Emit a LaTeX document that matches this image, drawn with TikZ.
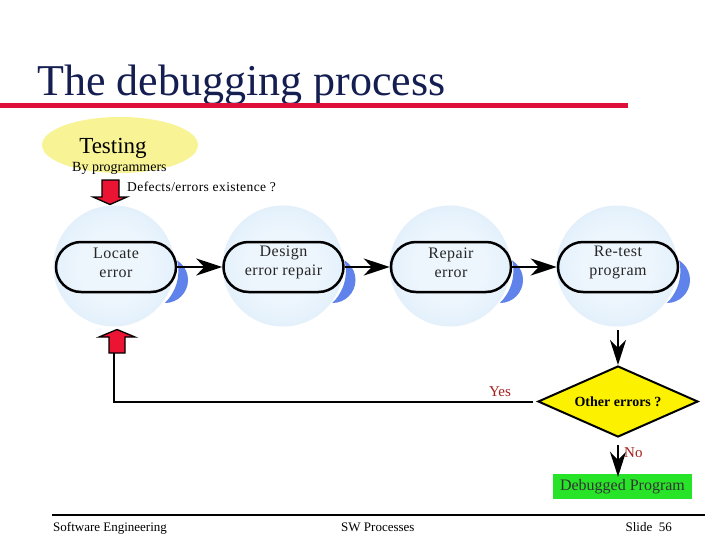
\documentclass[tikz,border=0pt]{standalone}
\usepackage{fontspec}
\setmainfont{Liberation Serif}
\usetikzlibrary{shapes.misc,shapes.geometric,arrows.meta}
\definecolor{titleblue}{RGB}{20,30,80}
\definecolor{titlered}{RGB}{222,16,58}
\definecolor{testyellow}{RGB}{248,244,150}
\definecolor{spherein}{RGB}{238,246,253}
\definecolor{sphereout}{RGB}{202,227,247}
\definecolor{shadowblue}{RGB}{95,130,235}
\definecolor{arrowred}{RGB}{235,20,50}
\definecolor{labelred}{RGB}{165,30,30}
\definecolor{diayellow}{RGB}{252,242,0}
\definecolor{boxgreen}{RGB}{40,228,40}
\pgfdeclareradialshading{sphere}{\pgfpoint{0bp}{0bp}}{color(0bp)=(spherein); color(14bp)=(spherein); color(50bp)=(sphereout); color(72bp)=(sphereout)}
\newcommand\crescent[2]{%
  \begin{scope}[even odd rule]
    \clip (#1-100,#2-100) rectangle (#1+100,#2+100) (#1+18,#2+4) circle[radius=44.4];
    \clip (#1-100,#2-100) rectangle (#1+100,#2+100) (#1+35,#2) circle[radius=25];
    \fill[shadowblue] (#1+49,#2+13) circle[radius=23];
  \end{scope}}
\tikzset{
  spherenode/.style={circle, minimum size=121pt, inner sep=0pt, shade, shading=sphere},
  stepbox/.style={rounded rectangle, draw=black, line width=2.5pt, minimum width=120pt, minimum height=50pt, inner sep=0pt},
  boxtext/.style={align=center, font=\fontsize{16}{19}\selectfont\addfontfeatures{LetterSpace=3}, text=black!85, inner sep=0pt},
  hconn/.style={line width=2.6pt, -{Stealth[length=26pt,width=17pt,inset=8pt]}},
  vconn/.style={line width=2pt, -{Stealth[length=25pt,width=16pt,inset=8pt]}},
  plainline/.style={line width=2pt},
  redarrow/.style={fill=arrowred, draw=black, line width=1.3pt, line join=miter},
  redlabel/.style={text=labelred, font=\fontsize{15}{15}\selectfont, inner sep=0pt},
  foot/.style={font=\fontsize{13}{13}\selectfont, inner sep=0pt, anchor=base west}
}
\begin{document}
\begin{tikzpicture}[x=1pt,y=-1pt]
\useasboundingbox[fill=white] (0,0) rectangle (717,538);
% title
\node[anchor=base west, inner sep=0pt, text=titleblue, font=\fontsize{44}{44}\selectfont] (title) at (37,95) {The debugging process};
\fill[titlered] (0,103) rectangle (628,107.5);
% testing
\node[ellipse, fill=testyellow, minimum width=156pt, minimum height=56pt, inner sep=0pt] (testing) at (120,145) {};
\node[anchor=base, inner sep=0pt, font=\fontsize{23}{23}\selectfont] (testinglbl) at (113,153) {Testing};
\node[anchor=base west, inner sep=0pt, font=\fontsize{14}{14}\selectfont] (byprog) at (72,171) {By programmers};
\node[anchor=base west, inner sep=0pt, font=\fontsize{13.5}{13.5}\selectfont\addfontfeatures{LetterSpace=3}] (defects) at (127,191) {Defects/errors existence ?};
% spheres
\node[spherenode] (c1) at (114,266) {};
\node[spherenode] (c2) at (283,266) {};
\node[spherenode] (c3) at (450,266) {};
\node[spherenode] (c4) at (617,266) {};
% shadows
\crescent{116}{267}
\crescent{283.5}{267}
\crescent{451}{267}
\crescent{618}{267}
% boxes
\node[stepbox] (b1) at (116,267) {};
\node[stepbox] (b2) at (283.5,267) {};
\node[stepbox] (b3) at (451,267) {};
\node[stepbox] (b4) at (618,267) {};
\node[boxtext] (t1) at ([yshift=4.5pt]b1.center) {Locate\\error};
\node[boxtext] (t2) at ([yshift=4.5pt]b2.center) {Design\\error repair};
\node[boxtext] (t3) at ([yshift=4.5pt]b3.center) {Repair\\error};
\node[boxtext] (t4) at ([yshift=4.5pt]b4.center) {Re-test\\program};
\draw[hconn] (b1.east) -- (b2.west);
\draw[hconn] (b2.east) -- (b3.west);
\draw[hconn] (b3.east) -- (b4.west);
% red arrows
\draw[redarrow] (102,180) -- (119,180) -- (119,197) -- (127,197) -- (110,204.5) -- (93,197) -- (102,197) -- cycle;
\draw[redarrow] (109,353) -- (125,353) -- (125,337) -- (135,337) -- (117,329.5) -- (99,337) -- (109,337) -- cycle;
\coordinate (ua) at (114,353);
\coordinate (corner) at (114,402);
\coordinate (yesend) at (533,402);
\coordinate (v1) at (618,330);
% decision
\node[diamond, draw=black, line width=2pt, fill=diayellow, minimum width=160pt, minimum height=71pt, aspect=2.25, inner sep=0pt, font=\bfseries\fontsize{14}{14}\selectfont] (dia) at (618,401.5) {Other errors ?};
\draw[vconn] (v1) -- (dia.north);
\draw[plainline] (yesend) -- (corner) -- (ua);
\node[redlabel, anchor=base] (yes) at (500,396) {Yes};
\node[fill=boxgreen, minimum width=139pt, minimum height=25pt, inner sep=0pt, text=black!80, font=\fontsize{16}{16}\selectfont] (done) at (622.5,486.5) {Debugged Program};
\draw[vconn, shorten <=7pt, shorten >=-3pt] (dia.south) -- (done.north -| dia.south);
\node[redlabel, anchor=base west] (no) at (624,457) {No};
% footer
\draw[line width=2pt] (52,515) -- (705,515);
\node[foot] (f1) at (53,531) {Software Engineering};
\node[foot] (f2) at (341,531) {SW Processes};
\node[foot, anchor=base east] (f3) at (672,531) {Slide\ \ 56};
\end{tikzpicture}
\end{document}
